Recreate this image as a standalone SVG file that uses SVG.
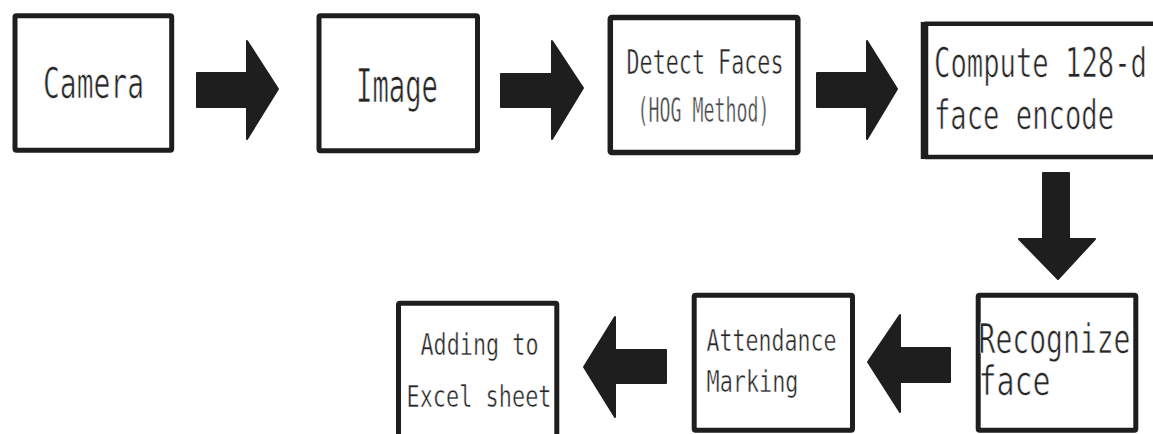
<svg xmlns="http://www.w3.org/2000/svg" width="1153" height="434" viewBox="0 0 1153 434">
<style>
.box{fill:#ffffff;stroke:#1e1e1e;stroke-width:5;stroke-linejoin:round}
.arr{fill:#1e1e1e;stroke:#1e1e1e;stroke-width:2;stroke-linejoin:round}
.t{font-family:"DejaVu Sans Mono","Liberation Mono",monospace;fill:#262626;stroke:#ffffff;stroke-width:0.7px}
.lg{font-size:42px}
.sm{font-size:32px;stroke-width:0.5px}
</style>
<rect x="0" y="0" width="1153" height="434" fill="#ffffff"/>
<g id="connectors">
<polygon class="arr" points="197,73 247,73 247,41 278,89 247,139 247,107 197,107"/>
<polygon class="arr" points="501,74 552,74 552,41 583,88 552,139 552,107 501,107"/>
<polygon class="arr" points="817,73 867,73 867,41 897,89 867,139 867,107 817,107"/>
<polygon class="arr" points="1043,173 1069,173 1069,239 1095,239 1058,279 1019,239 1043,239"/>
<polygon class="arr" points="950,348 900,348 900,315 868,362 900,412 900,382 950,382"/>
<polygon class="arr" points="666,350 615,350 615,317 584,367 615,417 615,383 666,383"/>
</g>
<g id="camera">
<rect class="box" x="15" y="15.8" width="156.7" height="134.4" rx="1.5"/>
<text class="t lg" x="43" y="98" textLength="101" lengthAdjust="spacingAndGlyphs">Camera</text>
</g>
<g id="image">
<rect class="box" x="319" y="15.8" width="158.5" height="135" rx="1.5"/>
<text class="t lg" x="356" y="102" style="font-size:47px" textLength="82" lengthAdjust="spacingAndGlyphs">Image</text>
</g>
<g id="detect">
<rect class="box" x="610.3" y="17.5" width="187.5" height="135" rx="1.5" style="stroke-width:5.5"/>
<text class="t sm" x="626.5" y="74" style="font-size:33px" textLength="157" lengthAdjust="spacingAndGlyphs">Detect Faces</text>
<text class="t sm" x="637.5" y="122" style="font-size:33px;fill:#444" textLength="132" lengthAdjust="spacingAndGlyphs">(HOG Method)</text>
</g>
<g id="compute">
<rect class="box" x="924" y="23.8" width="250" height="133.2" rx="1.5" style="stroke-width:4.5"/>
<line x1="924.5" y1="22" x2="924.5" y2="159" stroke="#1e1e1e" stroke-width="7.5"/>
<text class="t lg" x="934" y="77" style="font-size:41px" textLength="213" lengthAdjust="spacingAndGlyphs">Compute 128-d</text>
<text class="t lg" x="934" y="129" style="font-size:41px" textLength="180" lengthAdjust="spacingAndGlyphs">face encode</text>
</g>
<g id="recognize">
<rect class="box" x="978.2" y="295.2" width="157.6" height="135" rx="1.5"/>
<text class="t lg" x="978.5" y="353" style="font-size:41px" textLength="152" lengthAdjust="spacingAndGlyphs">Recognize</text>
<text class="t lg" x="978.5" y="395" style="font-size:41px" textLength="72" lengthAdjust="spacingAndGlyphs">face</text>
</g>
<g id="attendance">
<rect class="box" x="694.2" y="295.2" width="158.3" height="135" rx="1.5"/>
<text class="t sm" x="706.5" y="351" style="font-size:31px" textLength="130" lengthAdjust="spacingAndGlyphs">Attendance</text>
<text class="t sm" x="706.5" y="392" style="font-size:31px" textLength="92" lengthAdjust="spacingAndGlyphs">Marking</text>
</g>
<g id="excel">
<rect class="box" x="398.5" y="303.2" width="158.3" height="150" rx="1.5"/>
<text class="t sm" x="420.5" y="355" style="font-size:31px" textLength="118" lengthAdjust="spacingAndGlyphs">Adding to</text>
<text class="t sm" x="406.5" y="407" style="font-size:31px" textLength="145" lengthAdjust="spacingAndGlyphs">Excel sheet</text>
</g>
</svg>
